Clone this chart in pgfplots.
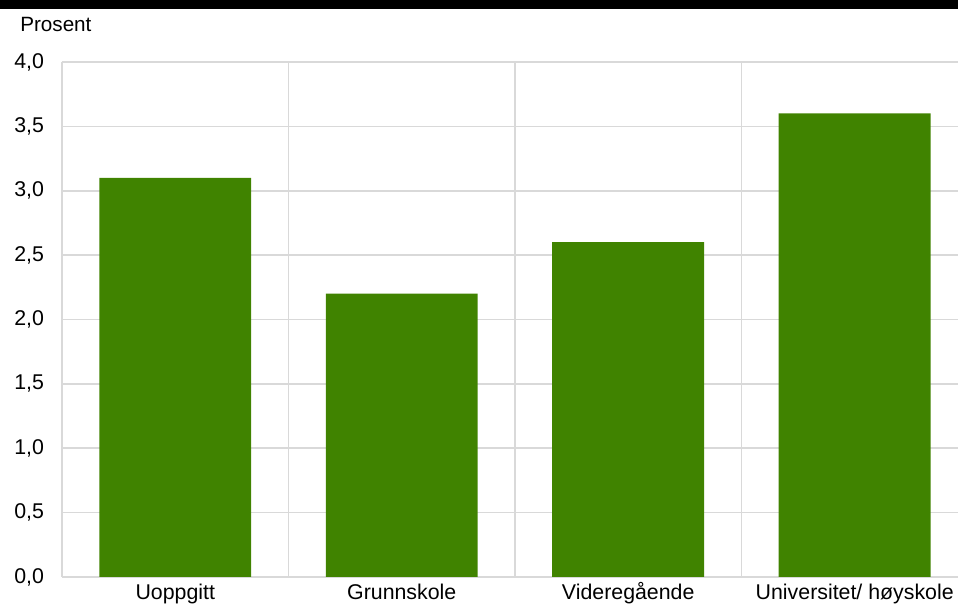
\documentclass[border=0pt]{standalone}
\usepackage{pgfplots}
\pgfplotsset{compat=1.18}
\usepackage{fontspec}
\setmainfont{Liberation Sans}
\definecolor{bargreen}{RGB}{64,131,0}
\definecolor{gridgray}{RGB}{217,217,217}
\begin{document}
\fontsize{16}{19}\selectfont
\begin{tikzpicture}
\path[use as bounding box] (0,0) rectangle (718.5pt,453.75pt);
\fill[black] (0,447pt) rectangle (718.5pt,453.75pt);
\node[anchor=base west,inner sep=0] at (15pt,429.75pt) {\fontsize{15.5}{18}\selectfont Prosent};
\begin{axis}[
  at={(46.5pt,21pt)}, anchor=south west,
  scale only axis, width=672pt, height=386.25pt,
  xmin=-0.5, xmax=3.456, ymin=0, ymax=4,
  axis x line*=bottom, axis y line*=left,
  axis line style={draw=gridgray, line width=1.2pt, -},
  xtick={0,1,2,3},
  xticklabels={Uoppgitt,Grunnskole,Videregående,Universitet/ høyskole},
  minor xtick={0.5,1.5,2.5},
  xminorgrids, ymajorgrids,
  minor x grid style={draw=gridgray, line width=1.2pt},
  major grid style={draw=gridgray, line width=1.2pt},
  ytick={0,0.5,...,4},
  major tick length=0, minor tick length=0,
  /pgf/number format/use comma,
  /pgf/number format/fixed,
  /pgf/number format/fixed zerofill,
  /pgf/number format/precision=1,
  /pgf/number format/assume math mode=true,
  yticklabel style={xshift=-8pt},
  xticklabel style={anchor=base, yshift=-17pt},
  tick label style={font=\fontsize{16}{19}\selectfont},
  clip=false,
]
\addplot[ybar, bar width=0.671, fill=bargreen, draw=none] coordinates {(0,3.1) (1,2.2) (2,2.6) (3,3.6)};
\end{axis}
\end{tikzpicture}
\end{document}
